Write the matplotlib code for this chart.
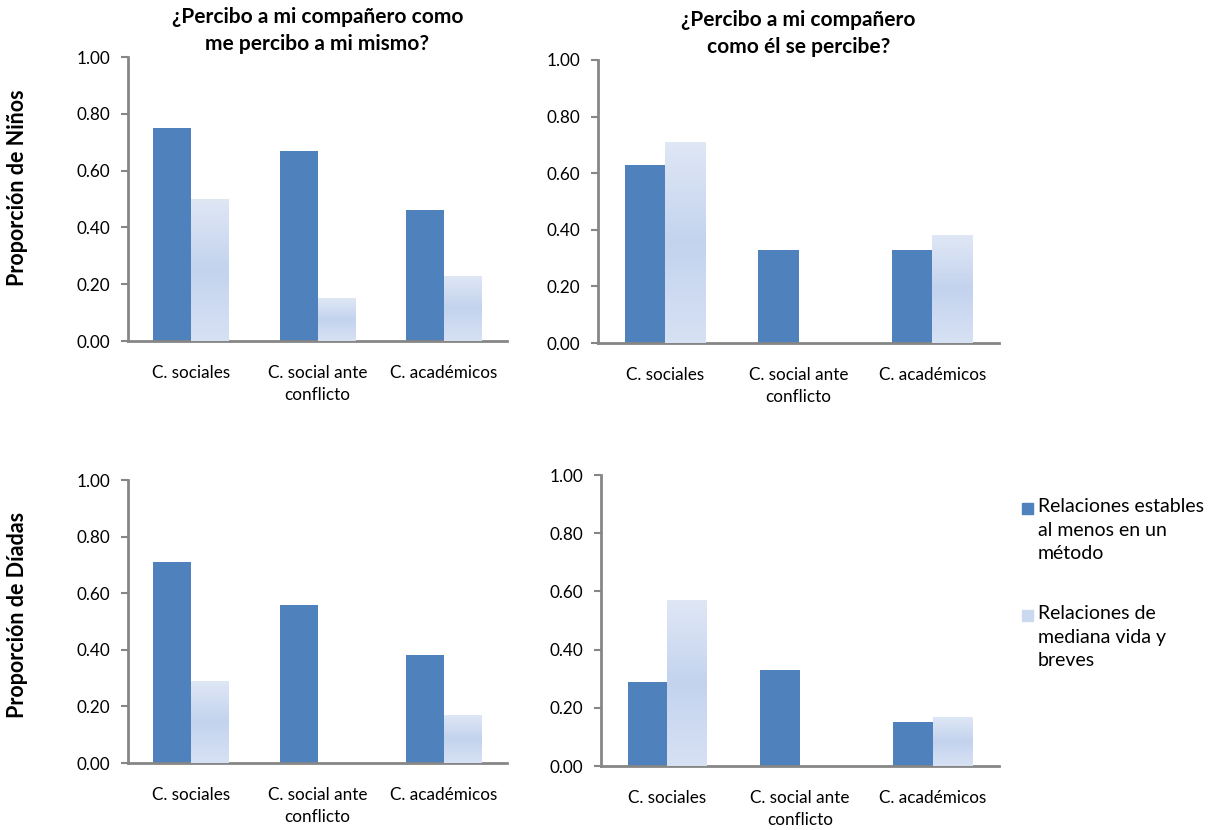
import matplotlib.pyplot as plt
import numpy as np
from matplotlib.colors import LinearSegmentedColormap

categorias = ['C. sociales', 'C. social ante\nconflicto', 'C. académicos']
titulos = ['¿Percibo a mi compañero como\nme percibo a mi mismo?',
           '¿Percibo a mi compañero\ncomo él se percibe?']
ylabels = ['Proporción de Niños', 'Proporción de Díadas']
series = ['Relaciones estables\nal menos en un\nmétodo',
          'Relaciones de\nmediana vida y\nbreves']

# valores
ninos_mismo_estables = [0.75, 0.67, 0.46]
ninos_mismo_breves = [0.50, 0.15, 0.23]
ninos_el_estables = [0.63, 0.33, 0.33]
ninos_el_breves = [0.71, 0.00, 0.38]
diadas_mismo_estables = [0.71, 0.56, 0.38]
diadas_mismo_breves = [0.29, 0.00, 0.17]
diadas_el_estables = [0.29, 0.33, 0.15]
diadas_el_breves = [0.57, 0.00, 0.17]

plt.rcParams['font.family'] = ['Lato', 'DejaVu Sans']

AZUL = '#4f81bd'
CLARO = '#cbd9f0'
GRIS = '#868686'
grad = LinearSegmentedColormap.from_list('g', ['#dfe7f5', '#c3d3ee', '#d7e1f4'])

W, H = 1215, 830
fig = plt.figure(figsize=(12.15, 8.3), dpi=100)

# (left, right, top, bottom) en pixeles
cajas = [(128, 507, 57, 341), (598, 999, 60, 343),
         (128, 507, 480, 763), (601, 999, 475, 766)]
datos = [(ninos_mismo_estables, ninos_mismo_breves),
         (ninos_el_estables, ninos_el_breves),
         (diadas_mismo_estables, diadas_mismo_breves),
         (diadas_el_estables, diadas_el_breves)]

x = np.arange(len(categorias))
w = 0.3
for i, ((l, r, t, b), (est, brv)) in enumerate(zip(cajas, datos)):
    ax = fig.add_axes([l / W, 1 - b / H, (r - l) / W, (b - t) / H])
    ax.bar(x - w / 2, est, w, color=AZUL, zorder=2)
    bars = ax.bar(x + w / 2, brv, w, color=CLARO, zorder=2)
    for p in bars:
        if p.get_height() <= 0:
            continue
        x0, y0 = p.get_x(), p.get_y()
        im = ax.imshow(np.linspace(0, 1, 64).reshape(-1, 1), cmap=grad,
                       extent=(x0, x0 + p.get_width(), y0, y0 + p.get_height()),
                       aspect='auto', zorder=3)
        im.set_clip_path(p)
    ax.set_xlim(-0.5, 2.5)
    ax.set_ylim(0, 1.0)
    ax.set_yticks(np.arange(0, 1.01, 0.2))
    ax.set_yticklabels(['%.2f' % v for v in np.arange(0, 1.01, 0.2)])
    ax.set_xticks(x)
    ax.set_xticklabels(categorias, fontsize=12.3, linespacing=1.5)
    ax.tick_params(axis='x', length=0, pad=17)
    ax.tick_params(axis='y', length=5, color=GRIS, width=1.5, labelsize=12.3, pad=8)
    for s in ['top', 'right']:
        ax.spines[s].set_visible(False)
    for s in ['left', 'bottom']:
        ax.spines[s].set_color(GRIS)
        ax.spines[s].set_linewidth(2)
    if i < 2:
        ax.set_title(titulos[i], fontsize=15, fontweight='bold', pad=5, linespacing=1.45)

fig.text(18 / W, 1 - 188 / H, ylabels[0], rotation=90, fontsize=15.5,
         fontweight='bold', ha='center', va='center')
fig.text(18 / W, 1 - 615 / H, ylabels[1], rotation=90, fontsize=15.5,
         fontweight='bold', ha='center', va='center')

# leyenda
for j, (txt, col) in enumerate(zip(series, [AZUL, CLARO])):
    ytop = 498 + j * 107
    fig.patches.append(plt.Rectangle((1022 / W, 1 - (ytop + 16) / H), 11 / W, 11 / H,
                                     color=col, transform=fig.transFigure))
    fig.text(1038 / W, 1 - ytop / H, txt, fontsize=14, va='top', ha='left',
             linespacing=1.47)

fig.savefig('out.png', dpi=100)
